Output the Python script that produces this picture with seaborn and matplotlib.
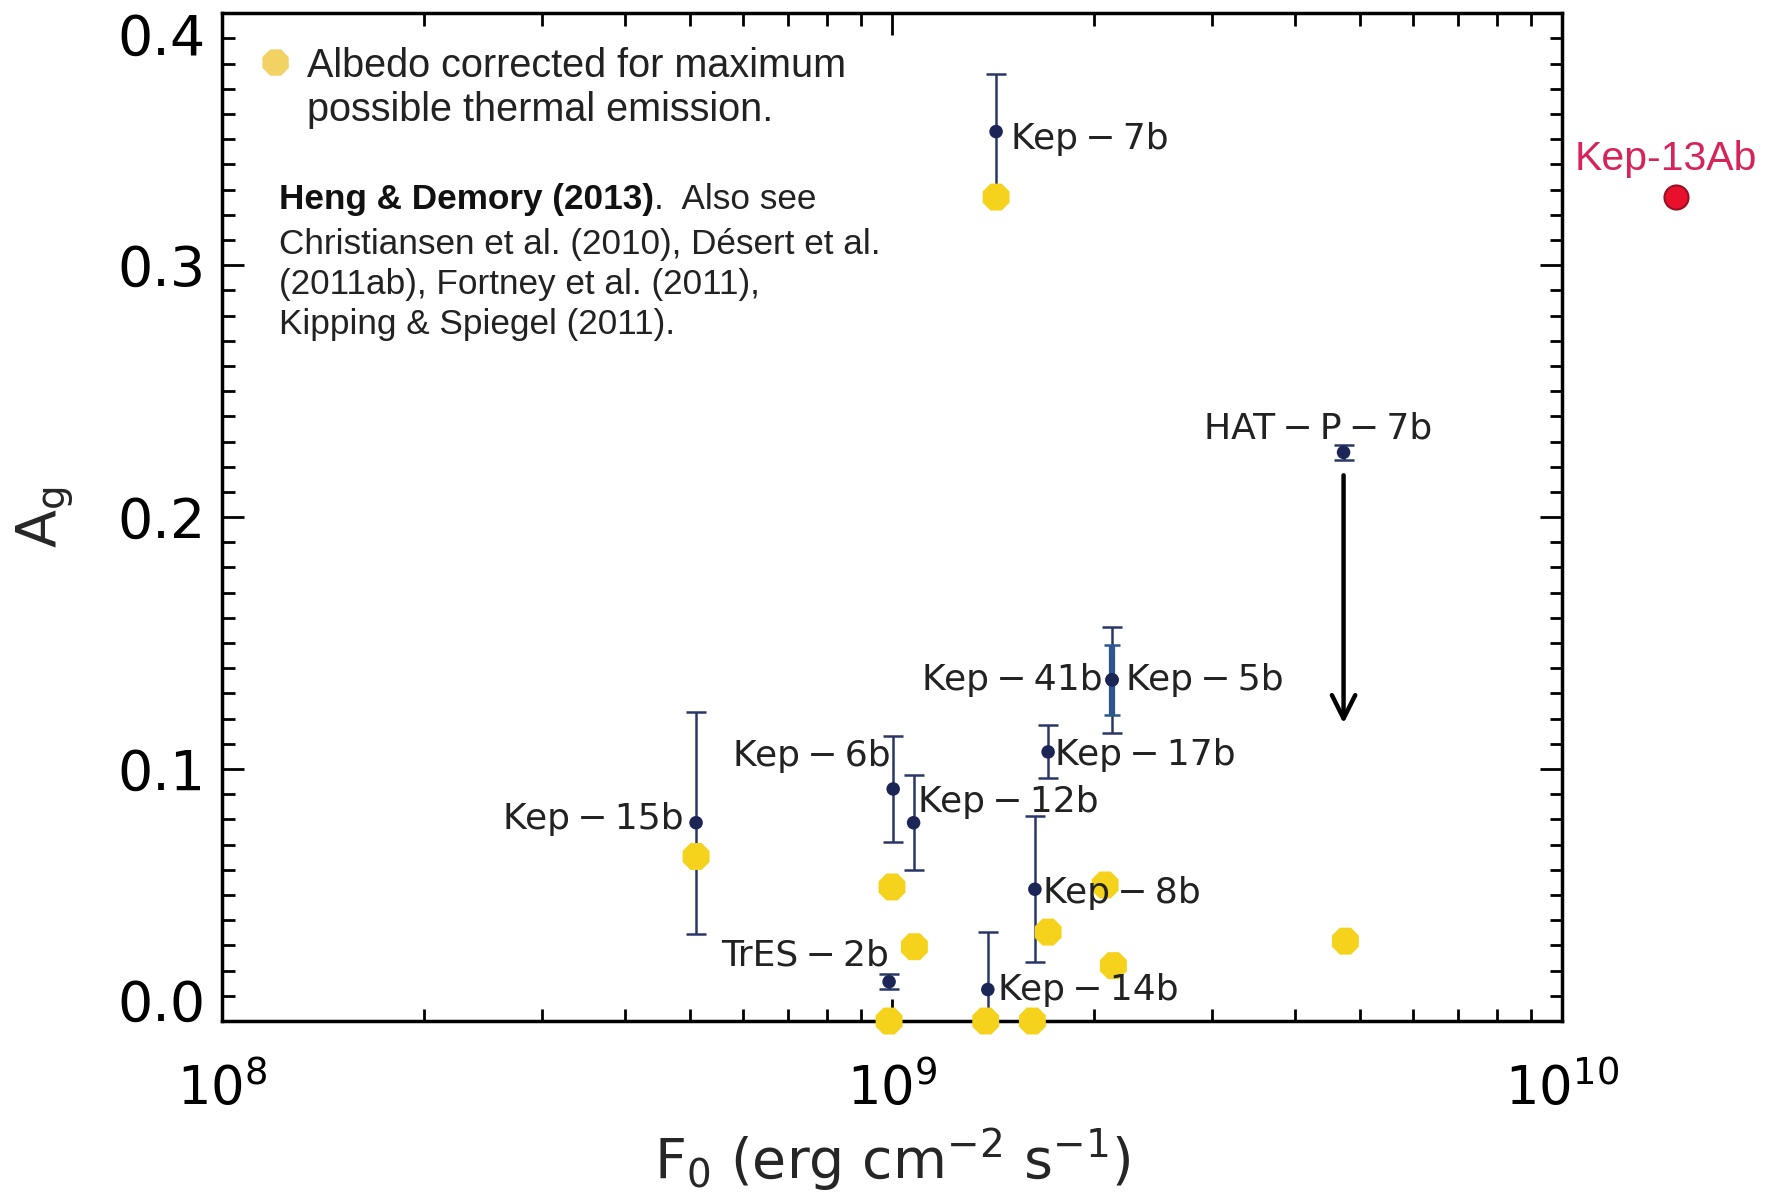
import matplotlib
matplotlib.use("Agg")
import numpy as np
import matplotlib.pyplot as plt
import matplotlib.ticker as mticker
import seaborn as sns

# measured geometric albedos (Heng & Demory 2013)
planets = ["Kep\u2009\u2212\u20097b", "HAT\u2009\u2212\u2009P\u2009\u2212\u20097b", "Kep\u2009\u2212\u200941b",
           "Kep\u2009\u2212\u20095b", "Kep\u2009\u2212\u200917b", "Kep\u2009\u2212\u20096b",
           "Kep\u2009\u2212\u200912b", "Kep\u2009\u2212\u200915b", "Kep\u2009\u2212\u20098b",
           "TrES\u2009\u2212\u20092b", "Kep\u2009\u2212\u200914b"]
flux = [1.43e9, 4.72e9, 2.13e9, 2.13e9, 1.71e9, 1.004e9, 1.077e9, 5.10e8, 1.634e9, 0.99e9, 1.39e9]
albedo = [0.353, 0.2257, 0.1354, 0.1354, 0.1068, 0.0921, 0.0787, 0.0787, 0.0523, 0.0156, 0.0125]
albedo_err = [0.023, 0.003, 0.014, 0.021, 0.0105, 0.021, 0.0188, 0.044, 0.029, 0.003, 0.023]

# albedo corrected for maximum possible thermal emission
corr_flux = [1.43e9, 4.75e9, 2.08e9, 2.14e9, 1.71e9, 1.0e9, 1.08e9, 5.10e8, 1.62e9, 0.99e9, 1.38e9]
corr_albedo = [0.327, 0.0317, 0.054, 0.022, 0.0353, 0.0532, 0.0295, 0.0653, 0.0, 0.0, 0.0]

# HAT-P-7b upper limit arrow
arrow_from, arrow_to = 0.2177, 0.117

# Kepler-13Ab (off the right edge)
k13_flux, k13_albedo = [1.48e10], [0.327]

# label placement: (dx, dy) in points, horizontal alignment
label_layout = [(11, -5, "left"), (-18, 17, "center"), (-7, 0, "right"), (10, 0, "left"),
                (5, -2, "left"), (-2, 24, "right"), (3, 15, "left"), (-9, 3, "right"),
                (6, -3, "left"), (0, 19, "right"), (7, 0, "left")]

navy = "#1b2656"
bar_col = "#2b3668"
yellow = "#f5d31c"

sns.set_style("ticks")
plt.rcParams["font.family"] = ["DejaVu Sans"]

fig = plt.figure(figsize=(17.66, 11.96), dpi=100)
ax = fig.add_axes([0.1257, 0.1463, 0.7588, 0.8427])
ax.set_xscale("log")

flux_a = np.array(flux)
alb_a = np.array(albedo)
err_a = np.array(albedo_err)
thick = np.array([p.endswith("41b") for p in planets])

ax.errorbar(flux_a[~thick], alb_a[~thick], yerr=err_a[~thick], fmt="none", ecolor=bar_col,
            elinewidth=1.8, capsize=7, capthick=1.8, zorder=2)
ax.errorbar(flux_a[thick], alb_a[thick], yerr=err_a[thick], fmt="none", ecolor="#2d5590",
            elinewidth=4.5, capsize=6, capthick=1.8, zorder=2)

sns.scatterplot(x=corr_flux, y=corr_albedo, ax=ax, color=yellow, s=440, marker="8",
                edgecolor="none", zorder=3, clip_on=False)
sns.scatterplot(x=flux, y=albedo, ax=ax, color=navy, s=95, edgecolor="none", zorder=5)
sns.scatterplot(x=k13_flux, y=k13_albedo, ax=ax, color="#e8102c", s=300, edgecolor="#9a1020",
                linewidth=1.5, zorder=5, clip_on=False)

for name, x, y, (dx, dy, ha) in zip(planets, flux, albedo, label_layout):
    ax.annotate(name, (x, y), xytext=(dx, dy), textcoords="offset points", ha=ha, va="center",
                fontsize=26, color="#222222", zorder=6)

ax.annotate("", xy=(flux[1], arrow_to), xytext=(flux[1], arrow_from),
            arrowprops=dict(arrowstyle="->", lw=3.2, color="black", mutation_scale=42))

ax.text(1.43e10, 0.342, "Kep-13Ab", color="#d6245a", fontsize=29.5, ha="center", va="center",
        family=["Liberation Sans"], clip_on=False)

# legend note and references
ax.scatter([0.040], [0.951], transform=ax.transAxes, s=420, marker="8", color="#f1d263",
           edgecolor="none", clip_on=False)
ax.text(0.0634, 0.926, "Albedo corrected for maximum\npossible thermal emission.",
        transform=ax.transAxes, fontsize=28.5, va="center", ha="left", family=["Liberation Sans"],
        color="#222222", linespacing=1.2)
bold = ax.text(0.0425, 0.8155, "Heng & Demory (2013)", transform=ax.transAxes, fontsize=25.3,
               fontweight="bold", va="center", ha="left", family=["Liberation Sans"], color="#111111")
ax.annotate(".  Also see", xy=(1, 0.5), xycoords=bold, va="center", ha="left", fontsize=25.3,
            family=["Liberation Sans"], color="#222222")
ax.text(0.0425, 0.731, "Christiansen et al. (2010), D\u00e9sert et al.\n(2011ab), Fortney et al. (2011),\n"
        "Kipping & Spiegel (2011).", transform=ax.transAxes, fontsize=25.3, va="center", ha="left",
        family=["Liberation Sans"], color="#222222", linespacing=1.27)

ax.set_xlim(1e8, 1e10)
ax.set_ylim(0, 0.4)
ax.yaxis.set_major_locator(mticker.MultipleLocator(0.1))
ax.yaxis.set_minor_locator(mticker.MultipleLocator(0.01))
ax.yaxis.set_major_formatter(mticker.FormatStrFormatter("%.1f"))
ax.xaxis.set_major_locator(mticker.LogLocator(base=10))
ax.xaxis.set_minor_locator(mticker.LogLocator(base=10, subs=np.arange(2, 10)))
ax.xaxis.set_minor_formatter(mticker.NullFormatter())

ax.tick_params(which="both", direction="in", top=True, right=True, width=2, colors="black")
ax.tick_params(which="major", length=16, labelsize=40)
ax.tick_params(axis="x", which="major", pad=30, labelsize=38)
ax.tick_params(axis="y", which="major", pad=12)
ax.tick_params(which="minor", length=9)
for sp in ax.spines.values():
    sp.set_linewidth(2.5)
    sp.set_color("black")

ax.set_xlabel(r"F$_\mathregular{0}$ (erg cm$^\mathregular{-2}$ s$^\mathregular{-1}$)", fontsize=40)
ax.set_ylabel(r"A$_\mathregular{g}$", fontsize=40)
ax.xaxis.set_label_coords(0.5, -0.105)
ax.yaxis.set_label_coords(-0.11, 0.5)

# make sure all tick objects exist before tweaking the end labels
fig.canvas.draw()
for t in ax.yaxis.get_major_ticks():
    loc = t.get_loc()
    if abs(loc - 0.1) < 1e-6:
        t.tick2line.set_color("#c8102e")
    if abs(loc - 0.4) < 1e-6:
        t.label1.set_verticalalignment("top")
    if abs(loc) < 1e-6:
        t.label1.set_verticalalignment("baseline")

fig.savefig("out.png", dpi=100)
